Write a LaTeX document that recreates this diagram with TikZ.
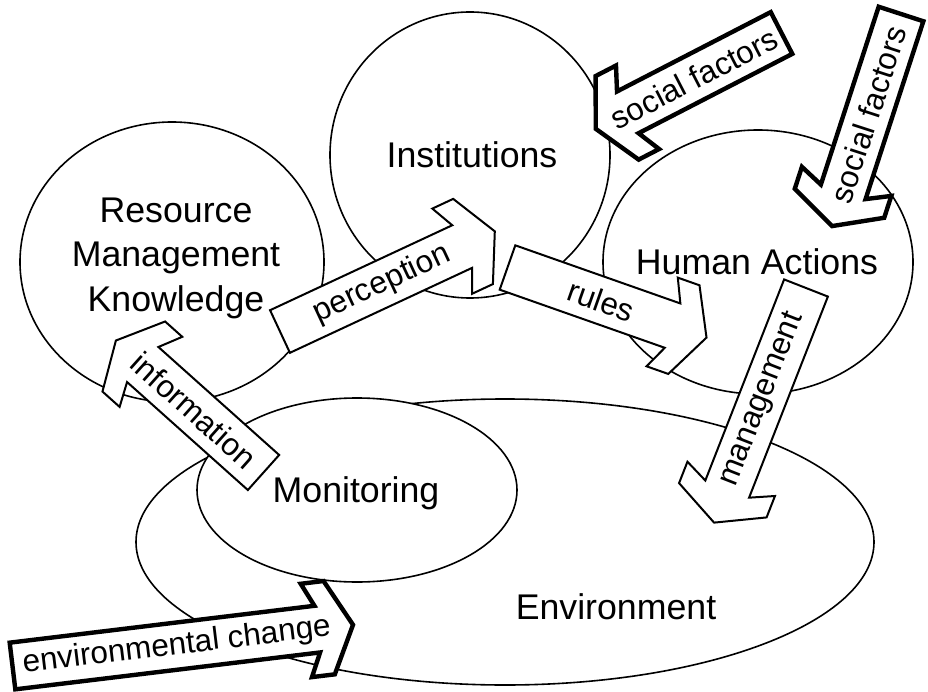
\documentclass[tikz,border=0pt]{standalone}
\usepackage{fontspec}
\setmainfont{Liberation Sans}
\usepackage{tikz}
\usetikzlibrary{shapes.geometric}

\tikzset{
	region/.style={draw, ellipse, line width=1.6pt, fill=white, inner sep=0pt},
	region label/.style={font=\fontsize{35.7}{44.5}\selectfont, align=center, inner sep=0pt},
	shaft width/.store in=\shaftw,
	shaft width=23.5,
	block arrow/.style={draw, fill=white, line width=2pt, line join=miter},
	heavy/.style={line width=4.4pt},
	arrow label/.style={font=\fontsize{31.5}{36}\selectfont, inner sep=0pt}
}

% block arrow: [style]{name}{tail centre}{angle}{shaft length}{text}
\newcommand{\blockarrow}[6][]{%
	\pgfmathsetmacro{\labelangle}{(#4>90 && #4<270) ? #4-180 : #4}
	\begin{scope}[shift={#3}, rotate=#4]
		\draw[block arrow, #1] (0,-\shaftw) -- (#5,-\shaftw) -- (#5-11,-2*\shaftw) -- (#5+12,-2*\shaftw)
			-- (#5+36,0) -- (#5+12,2*\shaftw) -- (#5-11,2*\shaftw) -- (#5,\shaftw) -- (0,\shaftw) -- cycle;
		\node[arrow label, rotate=\labelangle] (#2) at (#5/2+12,0) {#6};
	\end{scope}}

\begin{document}
\begin{tikzpicture}[x=1pt, y=-1pt]
	\useasboundingbox (0,0) rectangle (928,692);

	\node[region, minimum width=738pt, minimum height=286pt] (env) at (505,542) {};
	\node[region, minimum width=320pt, minimum height=184pt] (mon) at (357,490) {};
	\node[region, minimum width=304pt, minimum height=280pt] (res) at (172,262) {};
	\node[region, minimum width=280pt, minimum height=286pt] (inst) at (470,155) {};
	\node[region, minimum width=310pt, minimum height=264pt] (hum) at (758,262) {};

	\node[region label] (envtext) at (616,607) {Environment};
	\node[region label] (montext) at (356,493) {Monitoring};
	\node[region label] (restext) at (176,258) {Resource\\Management\\Knowledge};
	\node[region label] (insttext) at (472,155) {Institutions};
	\node[region label] (humtext) at (757,262) {Human Actions};

	\blockarrow{perc}{(280,331.5)}{25}{201}{perception}
	\blockarrow{rules}{(507.5,267.5)}{-19.4}{175}{rules}
	\blockarrow{mgmt}{(806,288)}{248.6}{216}{management}
	\blockarrow{info}{(263.5,472.5)}{138.2}{162}{information}
	\blockarrow[heavy]{socinst}{(781.5,33)}{207.3}{173}{social factors}
	\blockarrow[heavy]{sochum}{(901,14)}{252}{187}{social factors}
	\blockarrow[heavy]{envchange}{(12.5,666)}{6.9}{307}{environmental change}
\end{tikzpicture}
\end{document}
